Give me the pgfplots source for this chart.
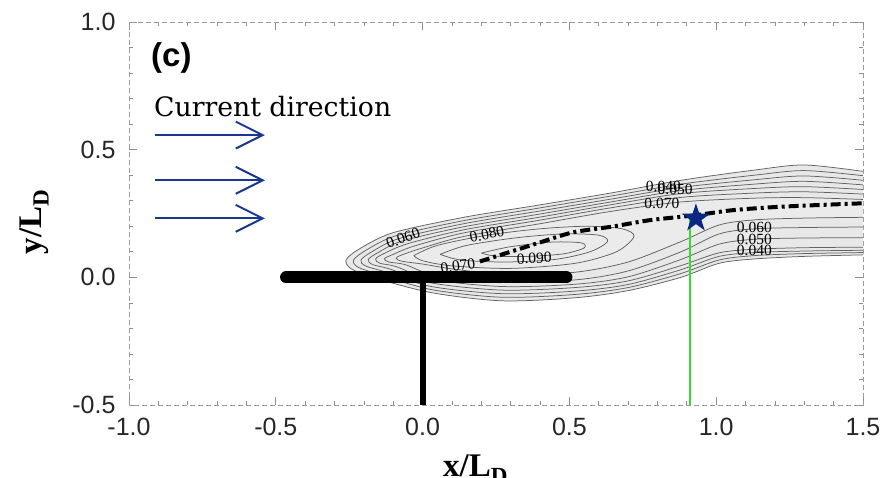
\documentclass[border=0pt]{standalone}
\usepackage{pgfplots}
\pgfplotsset{compat=1.18}
\usepackage{fontspec}
\setmainfont{Liberation Sans}
\newfontfamily\cursf{DejaVu Serif}
\newfontfamily\timesf{Liberation Serif}
\usetikzlibrary{arrows.meta}
\definecolor{navy}{RGB}{25,55,145}
\definecolor{starblue}{RGB}{10,40,130}
\definecolor{lgreen}{RGB}{50,220,50}
\tikzset{clab/.style={font=\timesf\fontsize{15.5}{16}\selectfont, inner sep=0pt}}
\pgfdeclareplotmark{fstar}{%
 \pgfpathmoveto{\pgfpointpolar{90}{\pgfplotmarksize}}%
 \pgfpathlineto{\pgfpointpolar{126}{0.382*\pgfplotmarksize}}%
 \pgfpathlineto{\pgfpointpolar{162}{\pgfplotmarksize}}%
 \pgfpathlineto{\pgfpointpolar{198}{0.382*\pgfplotmarksize}}%
 \pgfpathlineto{\pgfpointpolar{234}{\pgfplotmarksize}}%
 \pgfpathlineto{\pgfpointpolar{270}{0.382*\pgfplotmarksize}}%
 \pgfpathlineto{\pgfpointpolar{306}{\pgfplotmarksize}}%
 \pgfpathlineto{\pgfpointpolar{342}{0.382*\pgfplotmarksize}}%
 \pgfpathlineto{\pgfpointpolar{18}{\pgfplotmarksize}}%
 \pgfpathlineto{\pgfpointpolar{54}{0.382*\pgfplotmarksize}}%
 \pgfpathclose\pgfusepathqfill}
\begin{document}
\begin{tikzpicture}
\begin{axis}[name=ax, scale only axis, width=734pt, height=383pt,
 xmin=-1, xmax=1.5, ymin=-0.5, ymax=1.0,
 xtick={-1,-0.5,0,0.5,1,1.5}, ytick={-0.5,0,0.5,1},
 minor tick num=4,
 axis line style={draw=black!40, line width=0.8pt, dash pattern=on 5pt off 3pt},
 major tick length=8pt, minor tick length=4pt,
 every tick/.style={draw=black!45, line width=0.7pt},
 ticklabel style={font=\fontsize{25}{30}\selectfont, text=black!85},
 /pgf/number format/assume math mode=true,
 /pgf/number format/fixed, /pgf/number format/fixed zerofill, /pgf/number format/precision=1,
 xticklabel style={yshift=-10pt},
 yticklabel style={xshift=-10pt},
 cline/.style={draw=black!62, line width=0.75pt, smooth, no marks},
]
% stipple-like fills
\addplot[fill=black!9, draw=none, smooth] coordinates {(1.5,0.415) (1.3,0.44) (1.13,0.42) (0.88,0.38) (0.64,0.33) (0.39,0.282) (0.14,0.235) (-0.10,0.175) (-0.21,0.115) (-0.26,0.07) (-0.245,0.035) (-0.17,0.0) (0.03,-0.06) (0.27,-0.092) (0.52,-0.08) (0.70,-0.052) (0.88,0.0) (1.01,0.055) (1.13,0.072) (1.3,0.082) (1.5,0.088)} -- cycle;
\addplot[fill=black!8, draw=none, smooth] coordinates {(1.5,0.305) (1.3,0.312) (1.13,0.31) (0.88,0.295) (0.64,0.258) (0.39,0.208) (0.14,0.16) (0.0,0.115) (-0.07,0.088) (-0.09,0.075) (-0.07,0.063) (0.0,0.052) (0.12,0.03) (0.3,0.01) (0.52,0.02) (0.70,0.06) (0.88,0.14) (1.01,0.205) (1.13,0.225) (1.3,0.232) (1.5,0.235)} -- cycle;
% contour lines
\addplot[cline] coordinates {(1.5,0.415) (1.3,0.44) (1.13,0.42) (0.88,0.38) (0.64,0.33) (0.39,0.282) (0.14,0.235) (-0.10,0.175) (-0.21,0.115) (-0.26,0.07) (-0.245,0.035) (-0.17,0.0) (0.03,-0.06) (0.27,-0.092) (0.52,-0.08) (0.70,-0.052) (0.88,0.0) (1.01,0.055) (1.13,0.072) (1.3,0.082) (1.5,0.088)};
\addplot[cline] coordinates {(1.5,0.398) (1.3,0.418) (1.13,0.40) (0.88,0.365) (0.64,0.318) (0.39,0.27) (0.14,0.222) (-0.09,0.163) (-0.19,0.108) (-0.235,0.068) (-0.22,0.04) (-0.15,0.012) (0.03,-0.048) (0.27,-0.078) (0.52,-0.067) (0.70,-0.04) (0.88,0.015) (1.01,0.068) (1.13,0.085) (1.3,0.093) (1.5,0.097)};
\addplot[cline] coordinates {(1.5,0.38) (1.3,0.397) (1.13,0.382) (0.88,0.352) (0.64,0.306) (0.39,0.258) (0.14,0.21) (-0.08,0.152) (-0.17,0.102) (-0.21,0.068) (-0.195,0.045) (-0.13,0.022) (0.03,-0.036) (0.27,-0.064) (0.52,-0.054) (0.70,-0.028) (0.88,0.03) (1.01,0.082) (1.13,0.097) (1.3,0.103) (1.5,0.106)};
\addplot[cline] coordinates {(1.5,0.362) (1.3,0.376) (1.13,0.365) (0.88,0.34) (0.64,0.295) (0.39,0.246) (0.14,0.198) (-0.07,0.142) (-0.15,0.098) (-0.185,0.07) (-0.17,0.05) (-0.11,0.032) (0.03,-0.022) (0.27,-0.05) (0.52,-0.04) (0.70,-0.014) (0.88,0.046) (1.01,0.096) (1.13,0.11) (1.3,0.116) (1.5,0.118)};
\addplot[cline] coordinates {(1.5,0.344) (1.3,0.355) (1.13,0.348) (0.88,0.328) (0.64,0.284) (0.39,0.234) (0.14,0.186) (-0.05,0.132) (-0.13,0.094) (-0.16,0.072) (-0.145,0.055) (-0.09,0.042) (0.03,-0.008) (0.27,-0.036) (0.52,-0.027) (0.70,0.002) (0.88,0.07) (1.01,0.13) (1.13,0.149) (1.3,0.154) (1.5,0.155)};
\addplot[cline] coordinates {(1.5,0.326) (1.3,0.335) (1.13,0.33) (0.88,0.313) (0.64,0.272) (0.39,0.222) (0.14,0.174) (-0.03,0.122) (-0.1,0.09) (-0.13,0.073) (-0.115,0.06) (-0.06,0.05) (0.04,0.01) (0.27,-0.018) (0.52,-0.01) (0.70,0.025) (0.88,0.10) (1.01,0.17) (1.13,0.19) (1.3,0.195) (1.5,0.197)};
\addplot[cline] coordinates {(1.5,0.305) (1.3,0.312) (1.13,0.31) (0.88,0.295) (0.64,0.258) (0.39,0.208) (0.14,0.16) (0.0,0.115) (-0.07,0.088) (-0.09,0.075) (-0.07,0.063) (0.0,0.052) (0.12,0.03) (0.3,0.01) (0.52,0.02) (0.70,0.06) (0.88,0.14) (1.01,0.205) (1.13,0.225) (1.3,0.232) (1.5,0.235)};
\addplot[cline] coordinates {(-0.03,0.085) (0.05,0.125) (0.22,0.165) (0.40,0.19) (0.56,0.2) (0.68,0.19) (0.72,0.16) (0.66,0.1) (0.52,0.055) (0.3,0.035) (0.1,0.045) (0.0,0.065) (-0.03,0.085)};
\addplot[cline] coordinates {(0.06,0.09) (0.15,0.125) (0.32,0.155) (0.48,0.17) (0.6,0.165) (0.63,0.14) (0.57,0.1) (0.45,0.07) (0.28,0.06) (0.13,0.068) (0.06,0.09)};
\addplot[cline] coordinates {(0.2,0.095) (0.3,0.12) (0.44,0.138) (0.54,0.135) (0.55,0.115) (0.48,0.092) (0.36,0.082) (0.25,0.083) (0.2,0.095)};
% contour labels
\node[clab, rotate=20] at (axis cs:-0.067,0.153) {0.060};
\node[clab, rotate=12] at (axis cs:0.219,0.168) {0.080};
\node[clab, rotate=8] at (axis cs:0.12,0.045) {0.070};
\node[clab, rotate=3] at (axis cs:0.38,0.075) {0.090};
\node[clab] at (axis cs:0.82,0.355) {0.040};
\node[clab] at (axis cs:0.86,0.343) {0.050};
\node[clab] at (axis cs:0.815,0.29) {0.070};
\node[clab] at (axis cs:1.13,0.194) {0.060};
\node[clab] at (axis cs:1.13,0.150) {0.050};
\node[clab] at (axis cs:1.13,0.106) {0.040};
% ridge line
\addplot[black, line width=4pt, dash pattern=on 10pt off 4pt on 3pt off 4pt, smooth, no marks] coordinates {(0.195,0.062) (0.39,0.133) (0.512,0.176) (0.648,0.199) (0.775,0.224) (0.928,0.243) (1.057,0.263) (1.228,0.277) (1.5,0.29)};
% structure
\addplot[black, line width=6pt, no marks] coordinates {(0,0) (0,-0.5)};
\addplot[black, line width=12pt, line cap=round, no marks] coordinates {(-0.465,0) (0.49,0)};
% green line and star
\addplot[lgreen, line width=2pt, no marks] coordinates {(0.911,0.231) (0.911,-0.5)};
\addplot[only marks, mark=fstar, mark size=15pt, draw=none, fill=starblue] coordinates {(0.931,0.231)};
% current arrows
\addplot[navy, line width=2pt, no marks, -{Straight Barb[length=27pt, width=27pt]}] coordinates {(-0.911,0.557) (-0.537,0.557)};
\addplot[navy, line width=2pt, no marks, -{Straight Barb[length=27pt, width=27pt]}] coordinates {(-0.911,0.380) (-0.537,0.380)};
\addplot[navy, line width=2pt, no marks, -{Straight Barb[length=27pt, width=27pt]}] coordinates {(-0.911,0.231) (-0.537,0.231)};
\node[font=\fontsize{33}{36}\selectfont\bfseries, anchor=north west, inner sep=0pt] at (axis cs:-0.925,0.92) {(c)};
\node[font=\cursf\fontsize{26.7}{30}\selectfont, anchor=base west, inner sep=0pt] at (axis cs:-0.915,0.631) {Current direction};
\end{axis}
\node[font=\timesf\bfseries\fontsize{33}{36}\selectfont, anchor=base west, inner sep=0pt] at ([shift={(314pt,-72pt)}]ax.south west) {x/L\textsubscript{D}};
\node[font=\timesf\bfseries\fontsize{33}{36}\selectfont, anchor=base, inner sep=0pt, rotate=90] at ([shift={(-87pt,-200pt)}]ax.north west) {y/L\textsubscript{D}};
\pgfresetboundingbox
\path[use as bounding box] ([shift={(-129pt,-73pt)}]ax.south west) rectangle ([shift={(23pt,22pt)}]ax.north east);
\end{tikzpicture}
\end{document}
